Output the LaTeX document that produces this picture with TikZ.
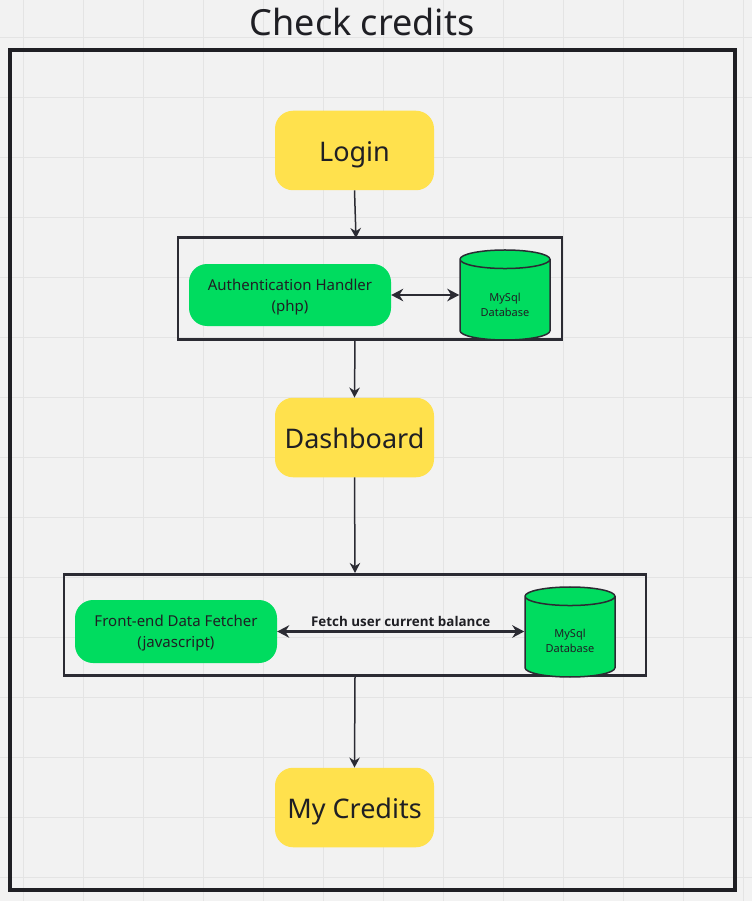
\documentclass[tikz,border=0pt]{standalone}
\usepackage{fontspec}
\setmainfont{Noto Sans}
\newfontfamily\lblfont{Open Sans}
\usetikzlibrary{shapes.geometric,arrows.meta}
\definecolor{bgc}{HTML}{F2F2F2}
\definecolor{gridc}{HTML}{E4E4E4}
\definecolor{yel}{HTML}{FFE14D}
\definecolor{grn}{HTML}{00DC5F}
\definecolor{ink}{HTML}{1F1F24}
\definecolor{lin}{HTML}{2B2B33}
\tikzset{
 pbox/.style={fill=yel,rounded corners=18pt,minimum width=159pt,minimum height=79.5pt,inner sep=0pt,text=ink,text height=21.5pt,text depth=0pt,font=\fontsize{27}{32}\selectfont},
 gbox/.style={fill=grn,rounded corners=18pt,minimum width=202pt,minimum height=62pt,inner sep=0pt,text=ink,align=center,font=\fontsize{15}{21}\selectfont},
 frm/.style={draw=lin,line width=2.6pt,inner sep=0pt,minimum height=101.5pt},
 dbc/.style={cylinder,shape border rotate=90,aspect=0.38,draw=lin,line width=1.5pt,fill=grn,minimum width=90pt,minimum height=90pt,inner sep=0pt,text=ink,align=center,font=\fontsize{11}{15}\selectfont},
 conn/.style={draw=lin,line width=1.5pt,-{Stealth[length=10pt,width=10.5pt]}},
 dconn/.style={draw=lin,line width=2.2pt,{Stealth[length=12pt,width=12.5pt]}-{Stealth[length=12pt,width=12.5pt]}}
}
\begin{document}
\begin{tikzpicture}[x=1pt,y=-1pt]
\useasboundingbox (0,0) rectangle (752,901);
\fill[bgc] (0,0) rectangle (752,901);
\foreach \x in {23,83,...,743} \draw[gridc,line width=1pt] (\x,0) -- (\x,901);
\foreach \y in {37,97,...,877} \draw[gridc,line width=.8pt] (0,\y) -- (752,\y);
\node[text=ink,font=\fontsize{36}{40}\selectfont] (title) at (362,22) {Check credits};
\draw[draw=ink,line width=3.5pt] (10,50) rectangle (735,890);
\node[frm,minimum width=384pt] (f1) at (370,288.5) {};
\node[frm,minimum width=582pt] (f2) at (355,625) {};
\node[pbox] (login) at (354.5,150.5) {Login};
\node[pbox] (dash) at (354.5,437.5) {Dashboard};
\node[pbox] (cred) at (354.5,807.5) {My Credits};
\node[gbox] (auth) at (290,295) {\rule{0pt}{15pt}Authentication Handler\\(php)};
\node[gbox,minimum height=63pt] (fetch) at (176,631.5) {\rule{0pt}{15pt}Front-end Data Fetcher\\(javascript)};
\node[dbc] (db1) at (505,300) {\rule{0pt}{18pt}MySql\\Database};
\node[dbc] (db2) at (570,637) {\rule{0pt}{16pt}MySql\\Database};
\coordinate (a1) at (356,238);
\coordinate (a2) at (355,339);
\draw[conn] (login.south) -- (a1);
\draw[conn] (a2) -- (dash.north);
\draw[conn] (dash.south) -- (f2.north);
\draw[conn] (f2.south) -- (cred.north);
\draw[dconn] (auth.east) -- (auth.east -| db1.west);
\draw[dconn] (fetch.east) -- node[above=0.5pt,text=ink,font=\lblfont\bfseries\fontsize{13.4}{15}\selectfont] {Fetch user current balance} (fetch.east -| db2.west);
\end{tikzpicture}
\end{document}
